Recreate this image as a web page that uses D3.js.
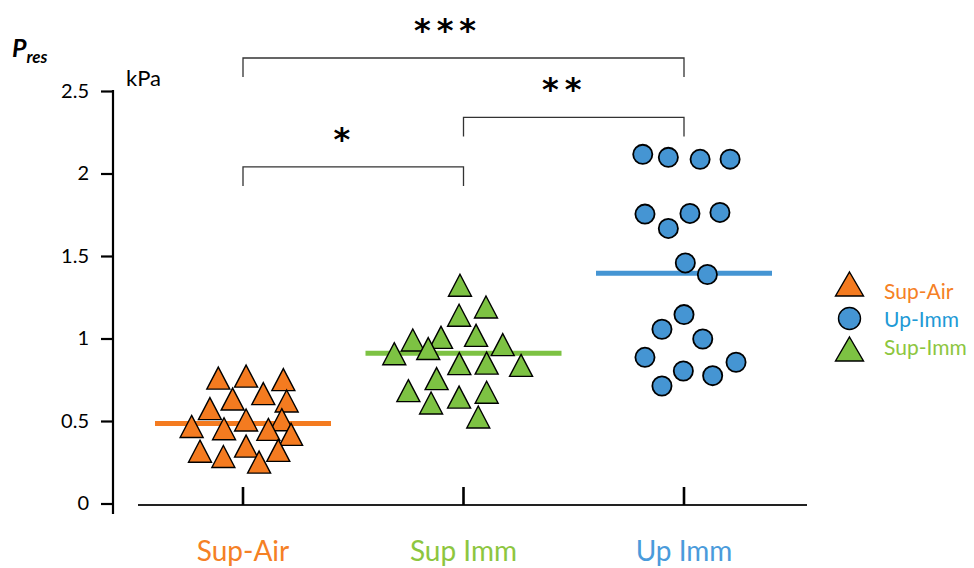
<!DOCTYPE html>
<html>
<head>
<meta charset="utf-8">
<script src="https://cdn.jsdelivr.net/npm/d3@7"></script>
<style>
  body { margin: 0; background: #fff; }
  svg { font-family: Lato, "Open Sans", sans-serif; }
</style>
</head>
<body>
<svg id="chart" width="974" height="568"></svg>
<script>
// groups and tick labels
var categories = ["Sup-Air", "Sup Imm", "Up Imm"];
var yTicks = [0, 0.5, 1, 1.5, 2, 2.5];

// P_res values (kPa) and horizontal jitter (in category units)
var supAir = [0.760, 0.772, 0.751, 0.666, 0.633, 0.621, 0.575, 0.506, 0.508,
              0.467, 0.453, 0.449, 0.419, 0.317, 0.348, 0.322, 0.285, 0.251];
var supAirJitter = [-0.112, 0.014, 0.183, 0.092, -0.047, 0.198, -0.150, 0.014, 0.176,
                    -0.233, -0.086, 0.115, 0.218, -0.195, 0.014, 0.160, -0.089, 0.073];

var supImm = [1.323, 1.191, 1.141, 1.007, 0.991, 1.019, 0.963, 0.908, 0.939,
              0.848, 0.851, 0.837, 0.757, 0.684, 0.645, 0.674, 0.609, 0.524];
var supImmJitter = [-0.016, 0.102, -0.020, -0.102, -0.230, 0.057, 0.178, -0.314, -0.160,
                    -0.019, 0.105, 0.261, -0.122, -0.250, -0.020, 0.105, -0.147, 0.067];

var upImm = [2.116, 2.098, 2.086, 2.087, 1.754, 1.667, 1.758, 1.764, 1.458,
             1.388, 1.145, 1.056, 0.997, 0.886, 0.856, 0.803, 0.775, 0.712];
var upImmJitter = [-0.187, -0.071, 0.073, 0.209, -0.177, -0.071, 0.027, 0.163, 0.006,
                   0.106, 0, -0.100, 0.085, -0.177, 0.236, -0.003, 0.130, -0.100];

var medians = [0.485, 0.91, 1.395];

// significance brackets: group index from/to, height (kPa)
var bracketFrom = [0, 1, 0];
var bracketTo = [1, 2, 2];
var bracketLevel = [2.04, 2.34, 2.70];
var bracketLabel = ["*", "**", "***"];

var legendLabels = ["Sup-Air", "Up-Imm", "Sup-Imm"];

var fills = ["#f47b20", "#7dc243", "#4595d3"];
var textColors = ["#f58025", "#8dc63f", "#4a9bdb"];
var legendFills = ["#f47b20", "#4595d3", "#7dc243"];
var legendText = ["#f58025", "#1e9ad6", "#8dc63f"];

var svg = d3.select("#chart");

var x = d3.scalePoint().domain(categories).range([243, 684]);
var step = x.step();
var y = d3.scaleLinear().domain([0, 2.5]).range([503.5, 91]);

// y axis
var yAxis = svg.append("g")
    .attr("transform", "translate(113,0)")
    .call(d3.axisLeft(y).tickValues(yTicks).tickSize(12).tickPadding(12)
          .tickFormat(function(d) { return d; }));
yAxis.select(".domain").remove();
yAxis.selectAll(".tick line").attr("stroke", "#000").attr("stroke-width", 2.2);
yAxis.selectAll(".tick text")
    .attr("font-size", 20).attr("fill", "#000")
    .attr("font-family", "Lato, sans-serif");
svg.append("line")
    .attr("x1", 113).attr("x2", 113)
    .attr("y1", y(2.5) - 1).attr("y2", 514)
    .attr("stroke", "#000").attr("stroke-width", 2.2);

// x axis
svg.append("line")
    .attr("x1", 138).attr("x2", 807)
    .attr("y1", 505).attr("y2", 505)
    .attr("stroke", "#222").attr("stroke-width", 2);
svg.selectAll(".xtick")
    .data(categories)
  .enter().append("line")
    .attr("class", "xtick")
    .attr("x1", function(d) { return x(d); })
    .attr("x2", function(d) { return x(d); })
    .attr("y1", 487).attr("y2", 505)
    .attr("stroke", "#000").attr("stroke-width", 2.6);
svg.selectAll(".xlabel")
    .data(categories)
  .enter().append("text")
    .attr("class", "xlabel")
    .attr("x", function(d) { return x(d); })
    .attr("y", 561)
    .attr("text-anchor", "middle")
    .attr("font-size", 28)
    .attr("fill", function(d, i) { return textColors[i]; })
    .text(function(d) { return d; });

// title and unit
var title = svg.append("text").attr("x", 12).attr("y", 57)
    .attr("font-weight", "bold").attr("font-style", "italic");
title.append("tspan").attr("font-size", 25).text("P");
title.append("tspan").attr("font-size", 17).attr("dy", 6).text("res");
svg.append("text").attr("x", 126).attr("y", 86)
    .attr("font-size", 22).attr("fill", "#000").text("kPa");

// median lines (behind points)
var halfWidths = [88, 98, 88];
svg.selectAll(".median")
    .data(medians)
  .enter().append("line")
    .attr("class", "median")
    .attr("x1", function(d, i) { return x(categories[i]) - halfWidths[i]; })
    .attr("x2", function(d, i) { return x(categories[i]) + halfWidths[i]; })
    .attr("y1", function(d) { return y(d); })
    .attr("y2", function(d) { return y(d); })
    .attr("stroke", function(d, i) { return fills[i]; })
    .attr("stroke-width", 5);

function triPath(cx, cy, w, h) {
    return "M" + cx + "," + (cy - h / 2) +
           "L" + (cx + w / 2) + "," + (cy + h / 2) +
           "L" + (cx - w / 2) + "," + (cy + h / 2) + "Z";
}

function addTriangles(values, jitter, gi) {
    var cx = x(categories[gi]);
    svg.append("g").selectAll("path")
        .data(values)
      .enter().append("path")
        .attr("d", function(d, i) { return triPath(cx + jitter[i] * step, y(d), 23, 22); })
        .attr("fill", fills[gi])
        .attr("stroke", "#000")
        .attr("stroke-width", 1.4)
        .attr("stroke-linejoin", "miter");
}
addTriangles(supAir, supAirJitter, 0);
addTriangles(supImm, supImmJitter, 1);

var cxUp = x(categories[2]);
svg.append("g").selectAll("circle")
    .data(upImm)
  .enter().append("circle")
    .attr("cx", function(d, i) { return cxUp + upImmJitter[i] * step; })
    .attr("cy", function(d) { return y(d); })
    .attr("r", 9.6)
    .attr("fill", fills[2])
    .attr("stroke", "#000")
    .attr("stroke-width", 1.8);

// significance brackets
var labelShift = [-11.5, -12, -18.5];
bracketLevel.forEach(function(lv, i) {
    var x1 = x(categories[bracketFrom[i]]), x2 = x(categories[bracketTo[i]]);
    var yy = y(lv);
    svg.append("path")
        .attr("d", "M" + x1 + "," + (yy + 19) + "V" + yy + "H" + x2 + "V" + (yy + 19))
        .attr("fill", "none")
        .attr("stroke", "#333")
        .attr("stroke-width", 1.3);
    svg.append("text")
        .attr("x", (x1 + x2) / 2 + labelShift[i] + 3)
        .attr("y", yy - 17)
        .attr("text-anchor", "middle")
        .attr("font-family", "'DejaVu Sans', sans-serif")
        .attr("font-size", 32)
        .attr("font-weight", "bold")
        .attr("letter-spacing", 6)
        .attr("fill", "#000")
        .text(bracketLabel[i]);
});

// legend
var legendY = [284, 318.5, 349];
var lg = svg.append("g");
lg.append("path").attr("d", triPath(849.5, legendY[0], 28, 24))
    .attr("fill", legendFills[0]).attr("stroke", "#000").attr("stroke-width", 1.4);
lg.append("circle").attr("cx", 849.5).attr("cy", legendY[1]).attr("r", 11)
    .attr("fill", legendFills[1]).attr("stroke", "#000").attr("stroke-width", 1.4);
lg.append("path").attr("d", triPath(849.5, legendY[2], 28, 24))
    .attr("fill", legendFills[2]).attr("stroke", "#000").attr("stroke-width", 1.4);
lg.selectAll("text")
    .data(legendLabels)
  .enter().append("text")
    .attr("x", 884)
    .attr("y", function(d, i) { return [292, 320, 348][i]; })
    .attr("dy", "0.35em")
    .attr("font-size", 21)
    .attr("fill", function(d, i) { return legendText[i]; })
    .text(function(d) { return d; });
</script>
</body>
</html>
